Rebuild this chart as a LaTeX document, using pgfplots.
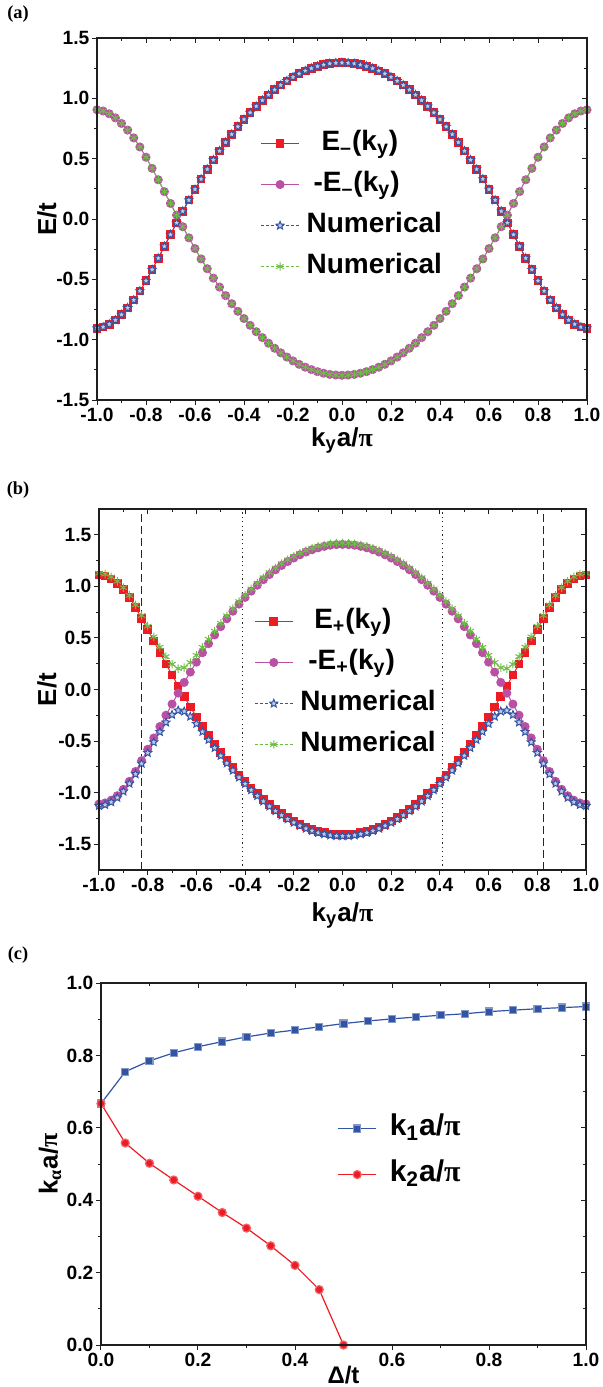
\documentclass[border=0pt]{standalone}
\usepackage{fontspec}
\setmainfont{Liberation Sans}
\newfontfamily\serifbf{Liberation Serif}
\usepackage{pgfplots}
\usepackage{pgfplotstable}
\pgfplotsset{compat=1.18}
\usetikzlibrary{plotmarks}

\definecolor{cred}{RGB}{237,28,36}
\definecolor{cpur}{RGB}{186,80,164}
\definecolor{cblu}{RGB}{50,84,164}
\definecolor{cgrn}{RGB}{110,190,70}

\pgfdeclareplotmark{ostar}{%
  \pgfpathmoveto{\pgfpointpolar{90}{\pgfplotmarksize}}%
  \pgfpathlineto{\pgfpointpolar{126}{0.45\pgfplotmarksize}}%
  \pgfpathlineto{\pgfpointpolar{162}{\pgfplotmarksize}}%
  \pgfpathlineto{\pgfpointpolar{198}{0.45\pgfplotmarksize}}%
  \pgfpathlineto{\pgfpointpolar{234}{\pgfplotmarksize}}%
  \pgfpathlineto{\pgfpointpolar{270}{0.45\pgfplotmarksize}}%
  \pgfpathlineto{\pgfpointpolar{306}{\pgfplotmarksize}}%
  \pgfpathlineto{\pgfpointpolar{342}{0.45\pgfplotmarksize}}%
  \pgfpathlineto{\pgfpointpolar{18}{\pgfplotmarksize}}%
  \pgfpathlineto{\pgfpointpolar{54}{0.45\pgfplotmarksize}}%
  \pgfpathclose
  \pgfusepathqfillstroke
}

\pgfplotstableread{
k r p
-1.000 -0.905 0.905
-0.975 -0.895 0.895
-0.950 -0.872 0.872
-0.925 -0.838 0.838
-0.900 -0.792 0.792
-0.875 -0.737 0.737
-0.850 -0.672 0.672
-0.825 -0.597 0.597
-0.800 -0.512 0.512
-0.775 -0.420 0.420
-0.750 -0.325 0.325
-0.725 -0.227 0.227
-0.700 -0.129 0.129
-0.675 -0.032 0.032
-0.650 0.064 -0.064
-0.625 0.156 -0.156
-0.600 0.245 -0.245
-0.575 0.331 -0.331
-0.550 0.412 -0.412
-0.525 0.490 -0.490
-0.500 0.564 -0.564
-0.475 0.635 -0.635
-0.450 0.702 -0.702
-0.425 0.765 -0.765
-0.400 0.825 -0.825
-0.375 0.881 -0.881
-0.350 0.934 -0.934
-0.325 0.983 -0.983
-0.300 1.029 -1.029
-0.275 1.071 -1.071
-0.250 1.109 -1.109
-0.225 1.144 -1.144
-0.200 1.176 -1.176
-0.175 1.204 -1.204
-0.150 1.228 -1.228
-0.125 1.248 -1.248
-0.100 1.265 -1.265
-0.075 1.278 -1.278
-0.050 1.288 -1.288
-0.025 1.293 -1.293
0.000 1.295 -1.295
0.025 1.293 -1.293
0.050 1.288 -1.288
0.075 1.278 -1.278
0.100 1.265 -1.265
0.125 1.248 -1.248
0.150 1.228 -1.228
0.175 1.204 -1.204
0.200 1.176 -1.176
0.225 1.144 -1.144
0.250 1.109 -1.109
0.275 1.071 -1.071
0.300 1.029 -1.029
0.325 0.983 -0.983
0.350 0.934 -0.934
0.375 0.881 -0.881
0.400 0.825 -0.825
0.425 0.765 -0.765
0.450 0.702 -0.702
0.475 0.635 -0.635
0.500 0.564 -0.564
0.525 0.490 -0.490
0.550 0.412 -0.412
0.575 0.331 -0.331
0.600 0.245 -0.245
0.625 0.156 -0.156
0.650 0.064 -0.064
0.675 -0.032 0.032
0.700 -0.129 0.129
0.725 -0.227 0.227
0.750 -0.325 0.325
0.775 -0.420 0.420
0.800 -0.512 0.512
0.825 -0.597 0.597
0.850 -0.672 0.672
0.875 -0.737 0.737
0.900 -0.792 0.792
0.925 -0.838 0.838
0.950 -0.872 0.872
0.975 -0.895 0.895
1.000 -0.905 0.905
}\tabA

\pgfplotstableread{
k r p up lo
-1.000 1.110 -1.110 1.128 -1.128
-0.975 1.100 -1.100 1.118 -1.118
-0.950 1.073 -1.073 1.092 -1.092
-0.925 1.030 -1.030 1.049 -1.049
-0.900 0.968 -0.968 0.988 -0.988
-0.875 0.890 -0.890 0.912 -0.912
-0.850 0.795 -0.795 0.820 -0.820
-0.825 0.690 -0.690 0.718 -0.718
-0.800 0.580 -0.580 0.614 -0.614
-0.775 0.470 -0.470 0.511 -0.511
-0.750 0.359 -0.359 0.411 -0.411
-0.725 0.249 -0.249 0.319 -0.319
-0.700 0.141 -0.141 0.245 -0.245
-0.675 0.035 -0.035 0.203 -0.203
-0.650 -0.069 0.069 0.212 -0.212
-0.625 -0.169 0.169 0.262 -0.262
-0.600 -0.265 0.265 0.332 -0.332
-0.575 -0.357 0.357 0.409 -0.409
-0.550 -0.445 0.445 0.488 -0.488
-0.525 -0.529 0.529 0.566 -0.566
-0.500 -0.610 0.610 0.642 -0.642
-0.475 -0.686 0.686 0.715 -0.715
-0.450 -0.759 0.759 0.785 -0.785
-0.425 -0.828 0.828 0.852 -0.852
-0.400 -0.893 0.893 0.915 -0.915
-0.375 -0.954 0.954 0.975 -0.975
-0.350 -1.011 1.011 1.031 -1.031
-0.325 -1.065 1.065 1.084 -1.084
-0.300 -1.115 1.115 1.133 -1.133
-0.275 -1.161 1.161 1.178 -1.178
-0.250 -1.203 1.203 1.220 -1.220
-0.225 -1.241 1.241 1.257 -1.257
-0.200 -1.275 1.275 1.291 -1.291
-0.175 -1.306 1.306 1.321 -1.321
-0.150 -1.333 1.333 1.348 -1.348
-0.125 -1.355 1.355 1.370 -1.370
-0.100 -1.374 1.374 1.389 -1.389
-0.075 -1.388 1.388 1.402 -1.402
-0.050 -1.399 1.399 1.413 -1.413
-0.025 -1.405 1.405 1.419 -1.419
0.000 -1.407 1.407 1.421 -1.421
0.025 -1.405 1.405 1.419 -1.419
0.050 -1.399 1.399 1.413 -1.413
0.075 -1.388 1.388 1.402 -1.402
0.100 -1.374 1.374 1.389 -1.389
0.125 -1.355 1.355 1.370 -1.370
0.150 -1.333 1.333 1.348 -1.348
0.175 -1.306 1.306 1.321 -1.321
0.200 -1.275 1.275 1.291 -1.291
0.225 -1.241 1.241 1.257 -1.257
0.250 -1.203 1.203 1.220 -1.220
0.275 -1.161 1.161 1.178 -1.178
0.300 -1.115 1.115 1.133 -1.133
0.325 -1.065 1.065 1.084 -1.084
0.350 -1.011 1.011 1.031 -1.031
0.375 -0.954 0.954 0.975 -0.975
0.400 -0.893 0.893 0.915 -0.915
0.425 -0.828 0.828 0.852 -0.852
0.450 -0.759 0.759 0.785 -0.785
0.475 -0.686 0.686 0.715 -0.715
0.500 -0.610 0.610 0.642 -0.642
0.525 -0.529 0.529 0.566 -0.566
0.550 -0.445 0.445 0.488 -0.488
0.575 -0.357 0.357 0.409 -0.409
0.600 -0.265 0.265 0.332 -0.332
0.625 -0.169 0.169 0.262 -0.262
0.650 -0.069 0.069 0.212 -0.212
0.675 0.035 -0.035 0.203 -0.203
0.700 0.141 -0.141 0.245 -0.245
0.725 0.249 -0.249 0.319 -0.319
0.750 0.359 -0.359 0.411 -0.411
0.775 0.470 -0.470 0.511 -0.511
0.800 0.580 -0.580 0.614 -0.614
0.825 0.690 -0.690 0.718 -0.718
0.850 0.795 -0.795 0.820 -0.820
0.875 0.890 -0.890 0.912 -0.912
0.900 0.968 -0.968 0.988 -0.988
0.925 1.030 -1.030 1.049 -1.049
0.950 1.073 -1.073 1.092 -1.092
0.975 1.100 -1.100 1.118 -1.118
1.000 1.110 -1.110 1.128 -1.128
}\tabB

\pgfplotstableread{
d k1
0.00 0.667
0.05 0.755
0.10 0.785
0.15 0.807
0.20 0.824
0.25 0.838
0.30 0.851
0.35 0.862
0.40 0.870
0.45 0.879
0.50 0.888
0.55 0.895
0.60 0.901
0.65 0.906
0.70 0.911
0.75 0.915
0.80 0.921
0.85 0.925
0.90 0.929
0.95 0.932
1.00 0.935
}\tabCa

\pgfplotstableread{
d k2
0.00 0.667
0.05 0.558
0.10 0.502
0.15 0.456
0.20 0.411
0.25 0.366
0.30 0.323
0.35 0.274
0.40 0.220
0.45 0.153
0.50 0.000
}\tabCb

\pgfplotsset{
  base/.style={
    scale only axis, anchor=north west,
    axis line style={line width=0.8pt, draw=black!88},
    tick style={line width=0.5pt, black!88},
    major tick length=2.6pt, minor tick length=1.6pt,
    tick align=outside, xtick pos=left, ytick pos=left,
    minor x tick num=1, minor y tick num=1,
    ticklabel style={font=\fontsize{9.6}{11}\selectfont\bfseries, inner sep=1pt},
    /pgf/number format/fixed, /pgf/number format/fixed zerofill,
    /pgf/number format/precision=1, /pgf/number format/assume math mode=true,
    label style={font=\fontsize{13}{15}\selectfont\bfseries, inner sep=0pt},
    legend style={draw=none, fill=none, inner sep=0pt, anchor=north west,
      font=\fontsize{14}{16}\selectfont\bfseries,
      nodes={inner sep=1pt, text height=10pt, text depth=3pt},
      row sep=5.5pt, column sep=2.5pt},
    legend cell align=left,
    legend image code/.code={\draw[mark repeat=2,mark phase=2] plot coordinates {(0pt,0pt) (9.5pt,0pt) (19pt,0pt)};},
  },
  mirror/.style={
    scale only axis, anchor=north west,
    axis line style={line width=0.8pt, draw=black!88},
    tick style={line width=0.5pt, black!88},
    major tick length=2.6pt, minor tick length=1.6pt,
    tick align=inside, xtick pos=right, ytick pos=right,
    minor x tick num=1, minor y tick num=1,
    xticklabels={}, yticklabels={},
  },
  sred/.style={cred, line width=0.5pt, mark=square*, mark size=1.9pt, mark options={solid, fill=cred, draw=cred}},
  spur/.style={cpur, line width=0.5pt, mark=*, mark size=2.0pt, mark options={solid, fill=cpur, draw=cpur}},
  sblu/.style={cblu, line width=0.5pt, dash pattern=on 1.5pt off 1pt, mark=ostar, mark size=2.1pt, mark options={solid, fill=cblu!30, draw=cblu, line width=0.5pt}},
  sgrn/.style={cgrn, line width=0.5pt, dash pattern=on 1.5pt off 1pt, mark=asterisk, mark size=2.1pt, mark options={solid, draw=cgrn, line width=0.5pt}},
}

\newcommand{\pis}{{\serifbf\bfseries π}}

\begin{document}
\begin{tikzpicture}
\useasboundingbox (0,0) rectangle (301pt,-693.5pt);

\node[font=\serifbf\bfseries\fontsize{9.2}{11}\selectfont] at (9pt,-7pt) {(a)};
\node[font=\serifbf\bfseries\fontsize{9.2}{11}\selectfont] at (9pt,-245pt) {(b)};
\node[font=\serifbf\bfseries\fontsize{9.2}{11}\selectfont] at (9pt,-477.5pt) {(c)};

% ---------- (a)
\begin{axis}[base, at={(48.5pt,-19pt)}, width=245pt, height=181pt,
  xmin=-1, xmax=1, ymin=-1.5, ymax=1.5,
  xtick={-1,-0.8,-0.6,-0.4,-0.2,0,0.2,0.4,0.6,0.8,1},
  ytick={-1.5,-1,-0.5,0,0.5,1,1.5},
  xlabel={k\textsubscript{y}a/\pis}, ylabel={E/t},
  x label style={at={(axis description cs:0.5,-0.074)}, anchor=north},
  y label style={at={(axis description cs:-0.102,0.5)}, anchor=center},
  legend style={at={(0.333,0.751)}},
]
\addplot[sred] table[x=k,y=r] {\tabA};
\addlegendentry{\hspace*{7.5pt}E\textsubscript{\textendash}(k\textsubscript{y})}
\addplot[spur] table[x=k,y=p] {\tabA};
\addlegendentry{\hspace*{3.5pt}-E\textsubscript{\textendash}(k\textsubscript{y})}
\addplot[sblu] table[x=k,y=r] {\tabA};
\addlegendentry{Numerical}
\addplot[sgrn] table[x=k,y=p] {\tabA};
\addlegendentry{Numerical}
\end{axis}
\begin{axis}[mirror, at={(48.5pt,-19pt)}, width=245pt, height=181pt,
  xmin=-1, xmax=1, ymin=-1.5, ymax=1.5,
  xtick={-1,-0.8,-0.6,-0.4,-0.2,0,0.2,0.4,0.6,0.8,1},
  ytick={-1.5,-1,-0.5,0,0.5,1,1.5}]
\end{axis}

% ---------- (b)
\begin{axis}[base, at={(49.5pt,-254.5pt)}, width=243.5pt, height=180.5pt,
  xmin=-1, xmax=1, ymin=-1.75, ymax=1.75,
  xtick={-1,-0.8,-0.6,-0.4,-0.2,0,0.2,0.4,0.6,0.8,1},
  ytick={-1.5,-1,-0.5,0,0.5,1,1.5},
  xlabel={k\textsubscript{y}a/\pis}, ylabel={E/t},
  x label style={at={(axis description cs:0.5,-0.0886)}, anchor=north},
  y label style={at={(axis description cs:-0.107,0.5)}, anchor=center},
  legend style={at={(0.318,0.731)}},
]
\addplot[sred] table[x=k,y=r] {\tabB};
\addlegendentry{\hspace*{7pt}E\textsubscript{+}(k\textsubscript{y})}
\addplot[spur] table[x=k,y=p] {\tabB};
\addlegendentry{\hspace*{4pt}-E\textsubscript{+}(k\textsubscript{y})}
\addplot[sblu] table[x=k,y=lo] {\tabB};
\addlegendentry{Numerical}
\addplot[sgrn] table[x=k,y=up] {\tabB};
\addlegendentry{Numerical}
\addplot[forget plot, black!85, line width=0.55pt, dash pattern=on 4pt off 2pt] coordinates {(-0.825,-1.75) (-0.825,1.75)};
\addplot[forget plot, black!85, line width=0.55pt, dash pattern=on 4pt off 2pt] coordinates {(0.825,-1.75) (0.825,1.75)};
\addplot[forget plot, black!85, line width=0.6pt, dash pattern=on 0.6pt off 1.6pt] coordinates {(-0.41,-1.75) (-0.41,1.75)};
\addplot[forget plot, black!85, line width=0.6pt, dash pattern=on 0.6pt off 1.6pt] coordinates {(0.41,-1.75) (0.41,1.75)};
\end{axis}
\begin{axis}[mirror, at={(49.5pt,-254.5pt)}, width=243.5pt, height=180.5pt,
  xmin=-1, xmax=1, ymin=-1.75, ymax=1.75,
  xtick={-1,-0.8,-0.6,-0.4,-0.2,0,0.2,0.4,0.6,0.8,1},
  ytick={-1.5,-1,-0.5,0,0.5,1,1.5}]
\end{axis}

% ---------- (c)
\begin{axis}[base, at={(50.5pt,-491.5pt)}, width=242.5pt, height=181pt,
  xmin=0, xmax=1, ymin=0, ymax=1,
  xtick={0,0.2,0.4,0.6,0.8,1}, ytick={0,0.2,0.4,0.6,0.8,1},
  xlabel={Δ/t}, ylabel={k\textsubscript{{\serifbf\bfseries α}}a/\pis},
  x label style={at={(axis description cs:0.5,-0.058)}, anchor=north, font=\fontsize{12}{14}\selectfont\bfseries},
  y label style={at={(axis description cs:-0.105,0.5)}, anchor=center},
  legend style={at={(0.487,0.644)}, font=\fontsize{15}{17}\selectfont\bfseries,
    nodes={inner sep=1pt, text height=10.8pt, text depth=3.5pt}, row sep=6.7pt, column sep=5.5pt},
]
\addplot[cblu, line width=0.6pt, mark=square*, mark size=1.8pt, mark options={fill=cblu, draw=cblu!60!white}] table[x=d,y=k1] {\tabCa};
\addlegendentry{k\textsubscript{1}a/\pis}
\addplot[cred, line width=0.6pt, mark=*, mark size=2.0pt, mark options={fill=cred, draw=cred!70!white}] table[x=d,y=k2] {\tabCb};
\addlegendentry{k\textsubscript{2}a/\pis}
\end{axis}
\begin{axis}[mirror, at={(50.5pt,-491.5pt)}, width=242.5pt, height=181pt,
  xmin=0, xmax=1, ymin=0, ymax=1,
  xtick={0,0.2,0.4,0.6,0.8,1}, ytick={0,0.2,0.4,0.6,0.8,1}]
\end{axis}
\end{tikzpicture}
\end{document}
